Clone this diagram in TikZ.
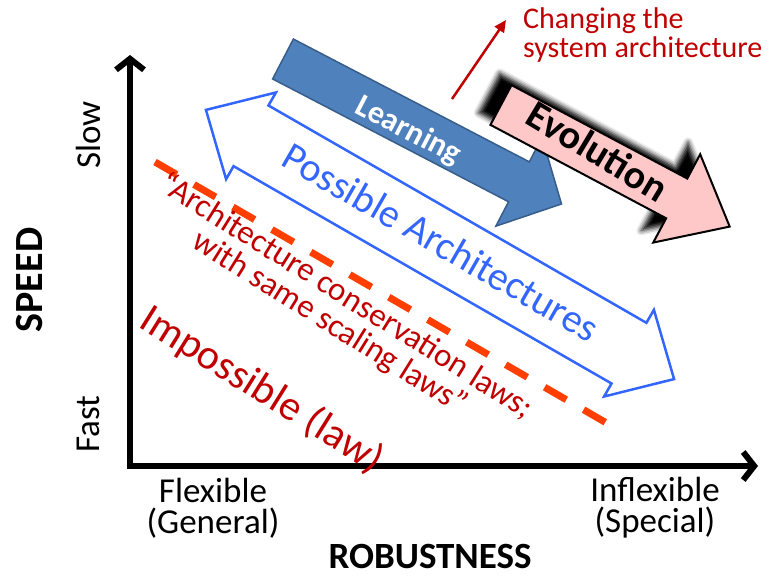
\documentclass[tikz,border=0pt]{standalone}
\usepackage{fontspec}
\setmainfont{Carlito}
\usetikzlibrary{arrows.meta,shadows.blur}
\definecolor{lawRed}{RGB}{192,0,0}
\definecolor{dashRed}{RGB}{255,62,0}
\definecolor{archBlue}{RGB}{51,102,255}
\definecolor{learnFill}{RGB}{79,129,189}
\definecolor{learnLine}{RGB}{56,93,138}
\definecolor{evoPink}{RGB}{255,200,200}
\newcommand{\setsize}[2]{\fontsize{#1}{#2}\selectfont}

\begin{document}
\begin{tikzpicture}[x=1pt,y=-1pt,
    axisline/.style={line width=6pt,
      {Straight Barb[length=11pt,width=28pt]}-{Straight Barb[length=11pt,width=28pt]}},
    axislabel/.style={align=center,inner sep=1pt,font=\setsize{35}{31}},
    axistitle/.style={inner sep=1pt,font=\bfseries\setsize{40}{40}},
    archarrow/.style={draw=archBlue,line width=2.5pt,line join=miter},
    learnarrow/.style={fill=learnFill,draw=learnLine,line width=1.5pt},
    evoarrow/.style={fill=evoPink,draw=black,line width=2pt},
    evoshadow/.style={blur shadow={shadow xshift=0pt,shadow yshift=0pt,
      shadow blur radius=5pt,shadow opacity=100}},
    lawtext/.style={text=lawRed,align=center,inner sep=0pt},
    lawline/.style={dashRed,line width=7pt,dash pattern=on 25pt off 20pt}]
    \useasboundingbox (0,0) rectangle (775,577);
    \def\angArch{-29.9}
    \def\angLearn{-27.5}
    \def\angEvo{-28}
    % the two axes
    \coordinate (origin) at (130,466);
    \coordinate (yTop) at (130,55);
    \coordinate (xEnd) at (758,466);
    \draw[axisline] (yTop) |- (xEnd);
    \node[axistitle,rotate=90] (speed) at (30,280) {SPEED};
    \node[axislabel,rotate=90] (slow) at (88,135) {Slow};
    \node[axislabel,rotate=90] (fast) at (88,424) {Fast};
    \node[axislabel] (flexible) at (213,508) {Flexible\\(General)};
    \node[axislabel] (inflexible) at (655,508) {Inflexible\\(Special)};
    \node[axistitle,font=\bfseries\setsize{37}{37}] (robust) at (430,556) {ROBUSTNESS};
    % possible architectures
    \begin{scope}[shift={(440,244.5)},rotate=\angArch]
        \draw[archarrow] (-270,0) -- (-218,-50) -- (-218,-35) -- (218,-35) -- (218,-50)
            -- (270,0) -- (218,50) -- (218,35) -- (-218,35) -- (-218,50) -- cycle;
    \end{scope}
    \node[text=archBlue,inner sep=0pt,font=\setsize{40}{40},rotate=\angArch]
        (possible) at (441,242) {Possible Architectures};
    % learning
    \begin{scope}[shift={(283,59)},rotate=\angLearn]
        \draw[learnarrow] (0,-22.5) -- (266,-22.5) -- (266,-50) -- (314,0)
            -- (266,50) -- (266,22.5) -- (0,22.5) -- cycle;
    \end{scope}
    \node[text=white,inner sep=0pt,font=\bfseries\setsize{32}{32},rotate=\angLearn]
        (learning) at (408,131) {Learning};
    % evolution, with its shadow
    \begin{scope}[shift={(489,93)},rotate=\angEvo]
        \path[evoshadow] (0,-22.5) -- (199,-22.5) -- (199,-50) -- (259,0)
            -- (199,50) -- (199,22.5) -- (0,22.5) -- cycle;
    \end{scope}
    \begin{scope}[shift={(501,105)},rotate=\angEvo]
        \draw[evoarrow] (0,-22.5) -- (199,-22.5) -- (199,-50) -- (259,0)
            -- (199,50) -- (199,22.5) -- (0,22.5) -- cycle;
    \end{scope}
    \node[inner sep=0pt,font=\bfseries\setsize{40}{40},rotate=-31]
        (evolution) at (598,151) {Evolution};
    % change of architecture
    \coordinate (chgStart) at (452,99);
    \coordinate (chgEnd) at (506,20);
    \draw[lawRed,line width=2.5pt,-{Triangle[length=12pt,width=11pt]}] (chgStart) -- (chgEnd);
    \node[lawtext,anchor=north west,align=left,font=\setsize{30}{29}]
        (changing) at (523,7) {Changing the\\system architecture};
    % law boundary
    \coordinate (dashStart) at (155,162);
    \coordinate (dashEnd) at (610,425);
    \draw[lawline] (dashStart) -- (dashEnd);
    \node[lawtext,rotate=-32,font=\setsize{33}{31}] (conservation) at (338,310)
        {“Architecture conservation laws;\\with same scaling laws”};
    \node[lawtext,rotate=-32,font=\setsize{42}{42}] (impossible) at (262,390) {Impossible (law)};
\end{tikzpicture}
\end{document}
